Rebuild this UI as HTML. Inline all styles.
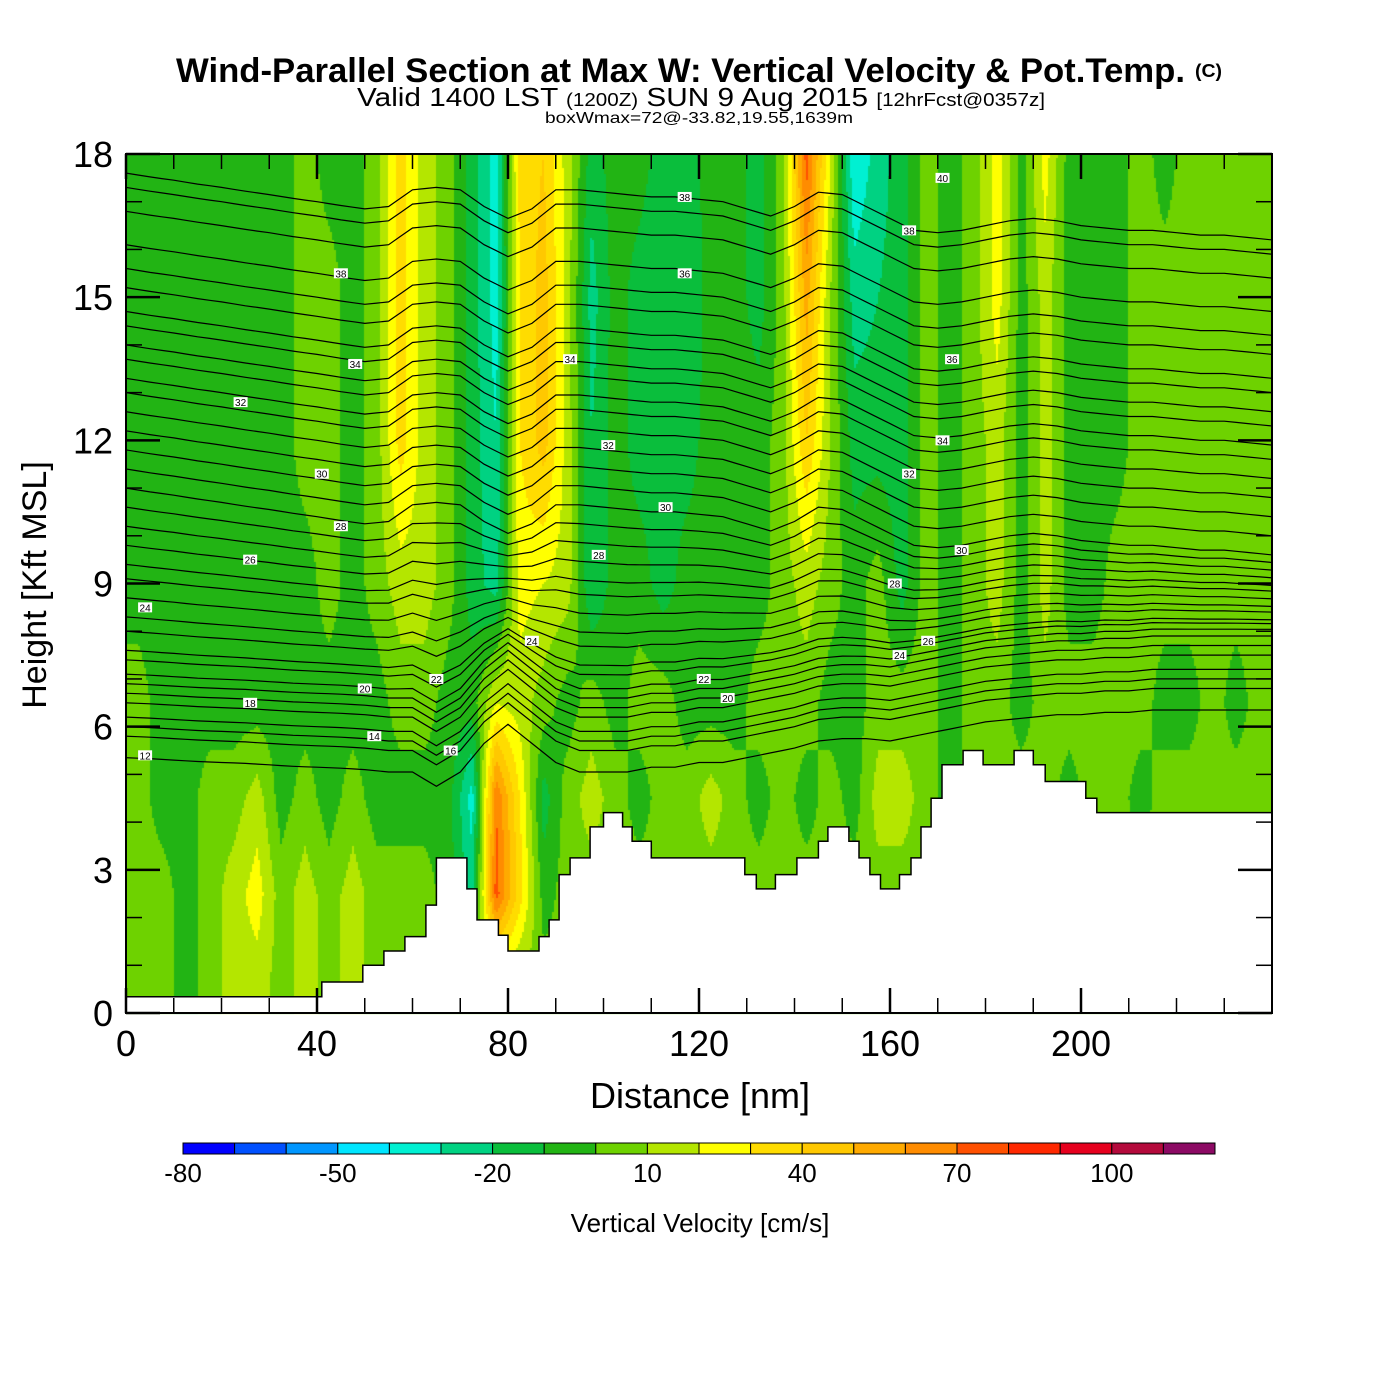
<!DOCTYPE html>
<html><head><meta charset="utf-8">
<style>
html,body{margin:0;padding:0;background:#fff;}
#wrap{position:relative;width:1400px;height:1400px;overflow:hidden;font-family:"Liberation Sans",sans-serif;}
#field{position:absolute;left:0;top:0;}
#ov{position:absolute;left:0;top:0;}
</style></head>
<body>
<div id="wrap">
<canvas id="field" width="1400" height="1400"></canvas>
<svg id="ov" width="1400" height="1400" xmlns="http://www.w3.org/2000/svg">
  <g font-family="Liberation Sans, sans-serif" fill="#000">
    <text x="176" y="82" font-size="34" font-weight="bold" textLength="1009" lengthAdjust="spacingAndGlyphs">Wind-Parallel Section at Max W: Vertical Velocity &amp; Pot.Temp.</text>
    <text x="1195" y="77" font-size="18" font-weight="bold" textLength="27" lengthAdjust="spacingAndGlyphs">(C)</text>
    <text x="357" y="106" font-size="26" textLength="688" lengthAdjust="spacingAndGlyphs">Valid 1400 LST <tspan font-size="18">(1200Z)</tspan> SUN 9 Aug 2015 <tspan font-size="18">[12hrFcst@0357z]</tspan></text>
    <text x="545" y="123" font-size="16" textLength="308" lengthAdjust="spacingAndGlyphs">boxWmax=72@-33.82,19.55,1639m</text>
  </g>
  <g id="theta"></g>
  <g id="terrain"></g>
  <g id="labels"></g>
  <g id="axes"></g>
  <g id="cbar"></g>
  <text x="700" y="1108" font-size="36" text-anchor="middle">Distance [nm]</text>
  <text transform="translate(46,585) rotate(-90)" font-size="34" text-anchor="middle">Height [Kft MSL]</text>
  <text x="700" y="1232" font-size="26" text-anchor="middle">Vertical Velocity [cm/s]</text>
</svg>
</div>
<script>
// ---------- data ----------
const colLevels = [-80,-70,-60,-50,-40,-30,-20,-10,0,10,20,30,40,50,60,70,80,90,100,110,120];
const colColors = ["#0000ff","#0050ff","#0096ff","#00e6ff","#00f0d2","#00d282","#0abe3c","#22b414","#6ed200","#b4e600","#ffff00","#ffdc00","#ffc800","#ffaa00","#ff8c00","#ff5000","#ff2800","#e6001e","#b40a3c","#8c0a64"];
const cbarLabels = [-80,-50,-20,10,40,70,100];
const rowHeights = [0.5,2.5,4.5,6.5,9,12,15,18];
const w0 = [5,5,-5,5,15,15,5,15,5,15, 5,5,5,5,5,5,5,5,5,5, 5,5,5,5,5,5,5,5,5,5, 5,5,5,5,5,5,5,5,5,5, 5,5,5,5,5,5,5,5];
const w2 = [5,5,-5,5,15,25,5,15,5,15, 5,5,5,-5,-25,75,35,-5,5,5, 5,5,5,5,5,5,5,5,5,5, 5,5,5,5,5,5,5,5,5,5, 5,5,5,5,5,5,5,5];
const w4 = [5,-5,-5,5,5,15,-5,5,-5,5, -5,-5,-5,-5,-35,70,30,-15,5,15, 5,-5,5,5,15,5,-5,5,-5,5, -5,15,15,5,-5,5,5,5,5,-5, 5,5,-5,5,5,5,5,5];
const w6 = [5,-5,-5,-5,-5,-5,-5,-5,-5,-5, -5,5,5,-5,-5,20,15,5,-5,5, -5,5,5,-5,-5,-5,5,5,5,-5, -5,5,5,5,-5,5,5,-5,5,5, 5,5,5,-5,-5,5,-5,5];
const w9 = [-5,-5,-5,-5,-5,-5,-5,-5,5,-5, 5,15,15,5,-15,-25,25,20,15,-20, -5,-5,-15,-5,-5,-5,-5,5,15,5, -5,5,-15,5,-5,5,15,-5,15,-5, -5,5,5,5,5,5,5,5];
const w12 = [-5,-5,-5,-5,-5,-5,-5,5,5,-5, 5,35,15,5,-15,-30,30,45,15,-20, -5,-15,-15,-15,-5,-5,-5,5,40,10, -15,-15,-15,5,-5,5,15,-5,15,-5, -5,-5,5,5,5,5,5,5];
const w15 = [-5,-5,-5,-5,-5,-5,-5,5,5,-5, 5,35,15,5,-15,-35,30,45,15,-25, -5,-15,-20,-20,-5,-5,-15,5,55,10, -25,-20,-15,5,-5,5,25,-5,15,-5, -5,-5,5,5,5,5,5,5];
const w18 = [-5,-5,-5,-5,-5,-5,-5,5,-5,-5, 5,35,15,5,-15,-35,35,40,15,-15, -5,-5,-15,-15,-5,-5,-15,5,75,20, -40,-25,-15,5,-5,5,25,-5,25,-5, -5,-5,5,-5,5,5,5,5];
const terrainX = [0,41,49.6,54,58.4,62.8,65,71.4,73.5,78,80,86.5,88.6,90.7,93,97.2,100,104,106,110,129.6,132,136,140.5,145,147,151.4,153.5,155.8,158,162,164.4,166.5,168.6,170.9,175.3,179.5,186,190,192.5,201,203.3,240];
const terrainH = [0.34,0.65,1.0,1.3,1.6,2.26,3.25,2.6,1.95,1.63,1.3,1.6,1.95,2.9,3.25,3.9,4.2,3.9,3.6,3.25,2.9,2.6,2.9,3.25,3.6,3.9,3.6,3.25,2.9,2.6,2.9,3.25,3.9,4.5,5.2,5.5,5.2,5.5,5.2,4.85,4.5,4.2];
const thetaBase = [17.6,17.3,16.8,16.1,15.6,15.2,14.7,14.4,14.0,13.7,13.3,13.0,12.6,12.2,11.8,11.4,11.0,10.6,10.2,9.8,9.4,9.1,8.7,8.3,8.0,7.6,7.4,7.1,6.9,6.7,6.5,6.2,6.0,5.8,5.35];
const dispUp = [0,-0.08,-0.15,-0.23,-0.3,-0.38,-0.45,-0.53,-0.6,-0.68,-0.75,-0.7,-0.35,-0.3,-0.35,-0.7,-0.95,-0.75,-0.35,-0.35,-0.4,-0.45,-0.5,-0.5,-0.55,-0.6,-0.75,-0.9,-0.7,-0.4,-0.45,-0.7,-0.95,-1.2,-1.25,-1.2,-1.1,-1.0,-0.95,-1.0,-1.1,-1.15,-1.2,-1.2,-1.25,-1.3,-1.3,-1.35,-1.4];
const dispLow = [0,-0.02,-0.05,-0.08,-0.1,-0.12,-0.15,-0.18,-0.2,-0.22,-0.25,-0.3,-0.3,-0.6,-0.3,0.3,0.7,0.3,-0.1,-0.3,-0.3,-0.3,-0.2,-0.2,-0.1,-0.1,0,0.1,0.2,0.35,0.4,0.4,0.35,0.45,0.55,0.65,0.75,0.8,0.85,0.9,0.9,0.95,0.95,1.0,1.0,1.0,1.0,1.0,1.0];
const labelText = ["38","34","32","30","28","26","24","22","20","18","16","14","12","38","36","34","32","30","28","24","22","20","40","38","36","34","32","30","28","26","24"];
const labelNm = [45,48,24,41,45,26,4,65,50,26,68,52,4,117,117,93,101,113,99,85,121,126,171,164,173,171,164,175,161,168,162];
const labelKft = [15.5,13.6,12.8,11.3,10.2,9.5,8.5,7.0,6.8,6.5,5.5,5.8,5.4,17.1,15.5,13.7,11.9,10.6,9.6,7.8,7.0,6.6,17.5,16.4,13.7,12.0,11.3,9.7,9.0,7.8,7.5];
const xTicks = [0,40,80,120,160,200];
const yTicks = [0,3,6,9,12,15,18];

// ---------- scales ----------
const X0=126, X1=1272, YB=1013, YT=154;
const xs = nm => X0 + nm*(X1-X0)/240;
const ys = k => YB - k*(YB-YT)/18;
const NS="http://www.w3.org/2000/svg";
function mk(tag, attrs, parent){const e=document.createElementNS(NS,tag);for(const k in attrs)e.setAttribute(k,attrs[k]);parent.appendChild(e);return e;}
function colorFor(v){let i=Math.floor((v-colLevels[0])/10);i=Math.max(0,Math.min(colColors.length-1,i));return colColors[i];}
const rows=[w0,w2,w4,w6,w9,w12,w15,w18];
function fieldAt(nm,k){
  let c=(nm-2.5)/5; c=Math.max(0,Math.min(47,c)); const c0=Math.min(46,Math.floor(c)); const fc=c-c0;
  let r=0; while(r<rowHeights.length-2 && k>rowHeights[r+1]) r++;
  let fr=(k-rowHeights[r])/(rowHeights[r+1]-rowHeights[r]); fr=Math.max(0,Math.min(1,fr));
  const a=rows[r][c0]*(1-fc)+rows[r][c0+1]*fc, b=rows[r+1][c0]*(1-fc)+rows[r+1][c0+1]*fc;
  return a*(1-fr)+b*fr;
}
// ---------- heatmap ----------
const ctx=document.getElementById('field').getContext('2d');
const step=2;
for(let px=X0;px<X1;px+=step){
  const nm=(px+step/2-X0)*240/(X1-X0);
  for(let py=YT;py<YB;py+=step){
    const k=(YB-(py+step/2))*18/(YB-YT);
    ctx.fillStyle=colorFor(fieldAt(nm,k));
    ctx.fillRect(px,py,step,step);
  }
}
// ---------- theta contours ----------
const th=document.getElementById('theta');
function interp(arr,nm){const f=nm/5;const i=Math.min(47,Math.floor(f));const t=f-i;return arr[i]*(1-t)+arr[i+1]*t;}
thetaBase.forEach((h0,li)=>{
  let d="";
  for(let nm=0;nm<=240;nm+=2.5){
    const wgt=Math.max(0,Math.min(1,(h0-7)/4));
    const h=h0+interp(dispUp,nm)*wgt+interp(dispLow,nm)*(1-wgt);
    d+=(nm===0?"M":"L")+xs(nm).toFixed(1)+","+ys(Math.min(18,h)).toFixed(1);
  }
  const p=mk('path',{d:d,fill:"none",stroke:"#000","stroke-width":1.2},th);
  
  
});
// ---------- terrain ----------
const tg=document.getElementById('terrain');
let td="M"+xs(0)+","+ys(0);
for(let i=0;i<terrainH.length;i++){td+="L"+xs(terrainX[i]).toFixed(1)+","+ys(terrainH[i]).toFixed(1)+"L"+xs(terrainX[i+1]).toFixed(1)+","+ys(terrainH[i]).toFixed(1);}
td+="L"+xs(240)+","+ys(0)+"Z";
const tp=mk('path',{d:td,fill:"#fff",stroke:"#000","stroke-width":1.5},tg);


// ---------- contour labels ----------
const lg=document.getElementById('labels');
labelText.forEach((t,i)=>{
  const x=xs(labelNm[i]), y=ys(labelKft[i]);
  const r=mk('rect',{x:x-7,y:y-5,width:14,height:10,fill:"#fff"},lg);
  
  
  const tx=mk('text',{x:x,y:y+4,"font-size":10,"text-anchor":"middle","font-family":"Liberation Sans, sans-serif"},lg);
  tx.textContent=t;
  
  
});
// ---------- axes ----------
const ax=document.getElementById('axes');
const fr=mk('rect',{x:X0,y:YT,width:X1-X0,height:YB-YT,fill:"none",stroke:"#000","stroke-width":2},ax);


for(let v=0;v<=240;v+=10){
  const major=xTicks.includes(v); const L=major?25:15; const x=xs(v);
  mk('line',{x1:x,y1:YB,x2:x,y2:YB-L,stroke:"#000","stroke-width":major?2.5:1.5},ax);
  mk('line',{x1:x,y1:YT,x2:x,y2:YT+L,stroke:"#000","stroke-width":major?2.5:1.5},ax);
}
xTicks.forEach(v=>{
  const t=mk('text',{x:xs(v),y:1056,"font-size":36,"text-anchor":"middle"},ax);
  t.textContent=v;
  
  
});
for(let v=0;v<=18;v+=1){
  const major=yTicks.includes(v); const L=major?34:16; const y=ys(v);
  mk('line',{x1:X0,y1:y,x2:X0+L,y2:y,stroke:"#000","stroke-width":major?2.5:1.5},ax);
  mk('line',{x1:X1,y1:y,x2:X1-L,y2:y,stroke:"#000","stroke-width":major?2.5:1.5},ax);
}
yTicks.forEach(v=>{
  const t=mk('text',{x:113,y:ys(v)+13,"font-size":36,"text-anchor":"end"},ax);
  t.textContent=v;
  
  
});
// ---------- colorbar ----------
const cb=document.getElementById('cbar');
const CB0=183, CB1=1215, segW=(CB1-CB0)/colColors.length;
colColors.forEach((c,i)=>{
  const r=mk('rect',{x:CB0+i*segW,y:1143,width:segW,height:11,fill:c,stroke:"#000","stroke-width":1},cb);
  
  
});
cbarLabels.forEach(v=>{
  const t=mk('text',{x:CB0+(v-colLevels[0])/10*segW,y:1182,"font-size":26,"text-anchor":"middle"},cb);
  t.textContent=v;
  
  
});
</script>
</body></html>
